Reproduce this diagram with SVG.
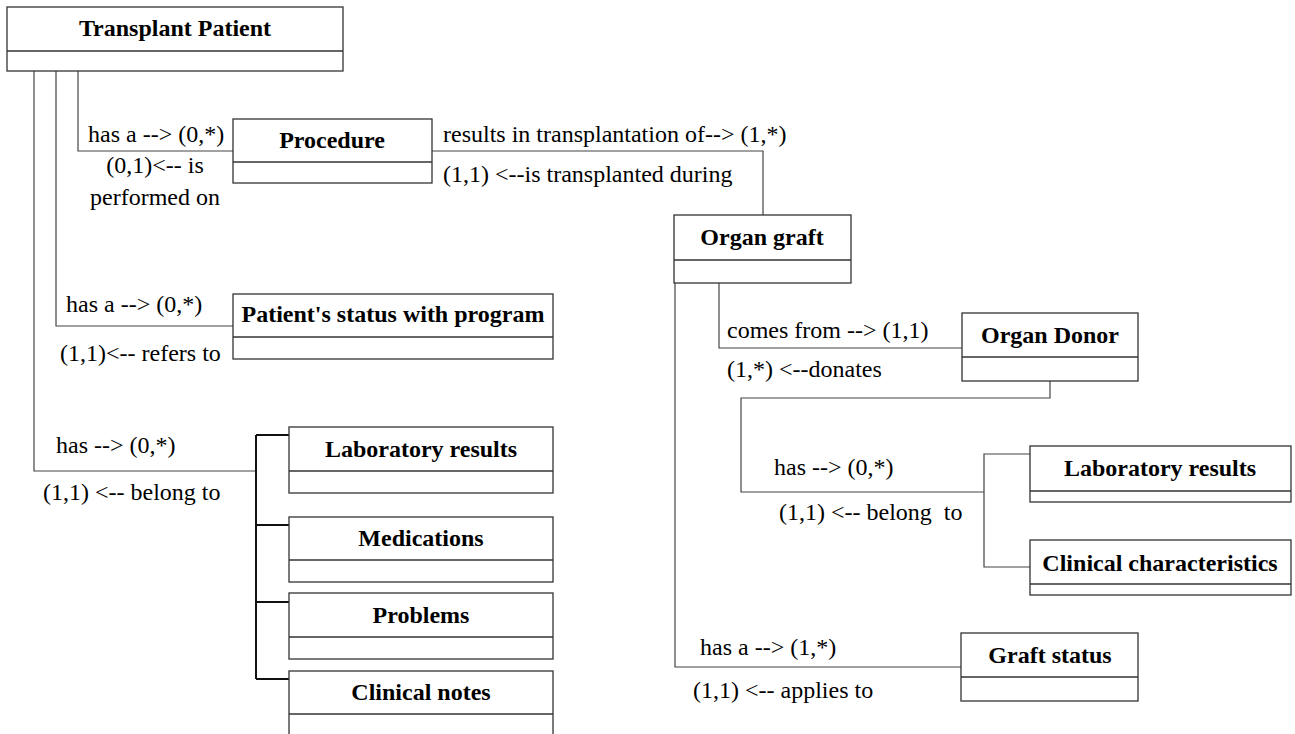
<svg xmlns="http://www.w3.org/2000/svg" width="1295" height="734" viewBox="0 0 1295 734">
<style>
.box{fill:#fff;stroke:#333;stroke-width:1.3}
.div{stroke:#333;stroke-width:1.3}
.t{font-size:24px;font-weight:bold;fill:#000;text-anchor:middle}
.l{font-size:24px;fill:#000;white-space:pre}
.c{fill:none;stroke:#444;stroke-width:1.2}
.br{fill:none;stroke:#111;stroke-width:2}
</style>
<rect width="1295" height="734" fill="#fff"/>
<g id="connectors">
<polyline class="c" points="78,71 78,151 233,151"/>
<polyline class="c" points="56,71 56,326 233,326"/>
<polyline class="c" points="34,71 34,471 256,471"/>
<polyline class="br" points="256,435 256,679"/>
<polyline class="br" points="256,435 289,435"/>
<polyline class="br" points="256,525 289,525"/>
<polyline class="br" points="256,602 289,602"/>
<polyline class="br" points="256,679 289,679"/>
<polyline class="c" points="432,151 763,151 763,215"/>
<polyline class="c" points="719,283 719,348 962,348"/>
<polyline class="c" points="675,283 675,667 961,667"/>
<polyline class="c" points="1050,381 1050,398 741,398 741,492 984,492"/>
<polyline class="c" points="1030,454 984,454 984,567 1030,567"/>
</g>
<g id="labels" font-family="Liberation Serif, Times New Roman, serif">
<text class="l" x="88" y="142">has a --&gt; (0,*)</text>
<text class="l" x="155" y="173" text-anchor="middle">(0,1)&lt;-- is</text>
<text class="l" x="155" y="205" text-anchor="middle">performed on</text>
<text class="l" x="443" y="142">results in transplantation of--&gt; (1,*)</text>
<text class="l" x="443" y="182">(1,1) &lt;--is transplanted during</text>
<text class="l" x="66" y="312">has a --&gt; (0,*)</text>
<text class="l" x="60" y="361">(1,1)&lt;-- refers to</text>
<text class="l" x="56" y="453">has --&gt; (0,*)</text>
<text class="l" x="43" y="500">(1,1) &lt;-- belong to</text>
<text class="l" x="727" y="338">comes from --&gt; (1,1)</text>
<text class="l" x="727" y="377">(1,*) &lt;--donates</text>
<text class="l" x="774" y="475">has --&gt; (0,*)</text>
<text class="l" x="779" y="520">(1,1) &lt;-- belong  to</text>
<text class="l" x="700" y="655">has a --&gt; (1,*)</text>
<text class="l" x="693" y="698">(1,1) &lt;-- applies to</text>
</g>
<g id="nodes" font-family="Liberation Serif, Times New Roman, serif">
<g id="transplant-patient">
<rect class="box" x="7" y="7" width="336" height="64"/>
<line class="div" x1="7" y1="51" x2="343" y2="51"/>
<text class="t" x="175" y="36">Transplant Patient</text>
</g>
<g id="procedure">
<rect class="box" x="233" y="119" width="199" height="64"/>
<line class="div" x1="233" y1="162" x2="432" y2="162"/>
<text class="t" x="332" y="148">Procedure</text>
</g>
<g id="patient-status">
<rect class="box" x="233" y="294" width="320" height="65"/>
<line class="div" x1="233" y1="337" x2="553" y2="337"/>
<text class="t" x="393" y="322">Patient's status with program</text>
</g>
<g id="lab-results-1">
<rect class="box" x="289" y="427" width="264" height="66"/>
<line class="div" x1="289" y1="471" x2="553" y2="471"/>
<text class="t" x="421" y="457">Laboratory results</text>
</g>
<g id="medications">
<rect class="box" x="289" y="517" width="264" height="65"/>
<line class="div" x1="289" y1="560" x2="553" y2="560"/>
<text class="t" x="421" y="546">Medications</text>
</g>
<g id="problems">
<rect class="box" x="289" y="593" width="264" height="66"/>
<line class="div" x1="289" y1="637" x2="553" y2="637"/>
<text class="t" x="421" y="623">Problems</text>
</g>
<g id="clinical-notes">
<rect class="box" x="289" y="671" width="264" height="70"/>
<line class="div" x1="289" y1="714" x2="553" y2="714"/>
<text class="t" x="421" y="700">Clinical notes</text>
</g>
<g id="organ-graft">
<rect class="box" x="674" y="215" width="177" height="68"/>
<line class="div" x1="674" y1="260" x2="851" y2="260"/>
<text class="t" x="762" y="245">Organ graft</text>
</g>
<g id="organ-donor">
<rect class="box" x="962" y="313" width="176" height="68"/>
<line class="div" x1="962" y1="357" x2="1138" y2="357"/>
<text class="t" x="1050" y="343">Organ Donor</text>
</g>
<g id="lab-results-2">
<rect class="box" x="1030" y="446" width="261" height="56"/>
<line class="div" x1="1030" y1="491" x2="1291" y2="491"/>
<text class="t" x="1160" y="476">Laboratory results</text>
</g>
<g id="clinical-characteristics">
<rect class="box" x="1030" y="540" width="261" height="55"/>
<line class="div" x1="1030" y1="584" x2="1291" y2="584"/>
<text class="t" x="1160" y="571">Clinical characteristics</text>
</g>
<g id="graft-status">
<rect class="box" x="961" y="633" width="177" height="68"/>
<line class="div" x1="961" y1="677" x2="1138" y2="677"/>
<text class="t" x="1050" y="663">Graft status</text>
</g>
</g>
</svg>
